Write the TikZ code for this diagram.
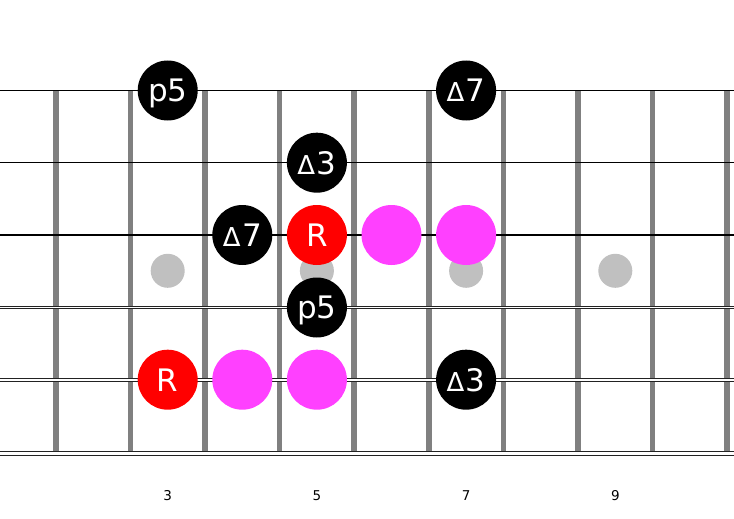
\documentclass[tikz,border=0pt]{standalone}
\usepackage{fontspec}
\setmainfont{DejaVu Sans}
\definecolor{fretgray}{HTML}{808080}
\definecolor{inlaygray}{HTML}{C0C0C0}
\definecolor{notemag}{HTML}{FF40FF}
\definecolor{notered}{HTML}{FF0000}
\definecolor{stringdark}{HTML}{222222}
\newcommand\smalltri{{\fontsize{26}{26}\selectfont Δ}\kern1.5pt}
\begin{document}
\begin{tikzpicture}[x=1pt,y=-1pt,
  fret/.style={draw=fretgray, line width=5.5pt},
  plainstring/.style={draw=black, line width=1.1pt},
  wound/.style={draw=stringdark, double=white, line width=0.9pt},
  inlay/.style={circle, fill=inlaygray, minimum size=34pt, inner sep=0pt},
  note/.style={circle, minimum size=60pt, inner sep=0pt, text=white},
  blacknote/.style={note, fill=black},
  rootnote/.style={note, fill=notered},
  magnote/.style={note, fill=notemag},
  notelabel/.style={font=\fontsize{31}{32}\selectfont, text height=22.6pt, text depth=0pt},
  fretnum/.style={font=\fontsize{13.5}{14}\selectfont, text=black, inner sep=0pt, text height=9.8pt, text depth=0pt}
]
\useasboundingbox (0,0) rectangle (734,519);
\fill[white] (0,0) rectangle (734,519);

% frets
\foreach \k in {0,...,9}
  \draw[fret] ({55.8+74.6*\k},90.5) -- ({55.8+74.6*\k},451.5);

% inlay dots
\node[inlay] (inlay3) at (167.7,270.8) {};
\node[inlay] (inlay5) at (316.9,270.8) {};
\node[inlay] (inlay7) at (466.1,270.8) {};
\node[inlay] (inlay9) at (615.3,270.8) {};

% strings
\draw[plainstring] (0,90.5) -- (734,90.5);
\draw[plainstring] (0,162.7) -- (734,162.7);
\draw[plainstring] (0,235) -- (734,235);
\draw[wound, double distance=1.6pt] (0,307.5) -- (734,307.5);
\draw[wound, double distance=1.9pt] (0,379.7) -- (734,379.7);
\draw[wound, double distance=3.4pt] (0,453.3) -- (734,453.3);

% notes, string 1
\node[blacknote, notelabel] (s1f3) at (167.7,90.5) {p5};
\node[blacknote, notelabel] (s1f7) at (466.1,90.5) {\smalltri 7};
% string 2
\node[blacknote, notelabel] (s2f5) at (316.9,162.7) {\smalltri 3};
% string 3
\node[blacknote, notelabel] (s3f4) at (242.3,235) {\smalltri 7};
\node[rootnote, notelabel] (s3f5) at (316.9,235) {R};
\node[magnote] (s3f6) at (391.5,235) {};
\node[magnote] (s3f7) at (466.1,235) {};
% string 4
\node[blacknote, notelabel] (s4f5) at (316.9,307.5) {p5};
% string 5
\node[rootnote, notelabel] (s5f3) at (167.7,379.7) {R};
\node[magnote] (s5f4) at (242.3,379.7) {};
\node[magnote] (s5f5) at (316.9,379.7) {};
\node[blacknote, notelabel] (s5f7) at (466.1,379.7) {\smalltri 3};

% fret numbers
\node[fretnum] (num3) at (167.7,495.2) {3};
\node[fretnum] (num5) at (316.9,495.2) {5};
\node[fretnum] (num7) at (466.1,495.2) {7};
\node[fretnum] (num9) at (615.3,495.2) {9};
\end{tikzpicture}
\end{document}
